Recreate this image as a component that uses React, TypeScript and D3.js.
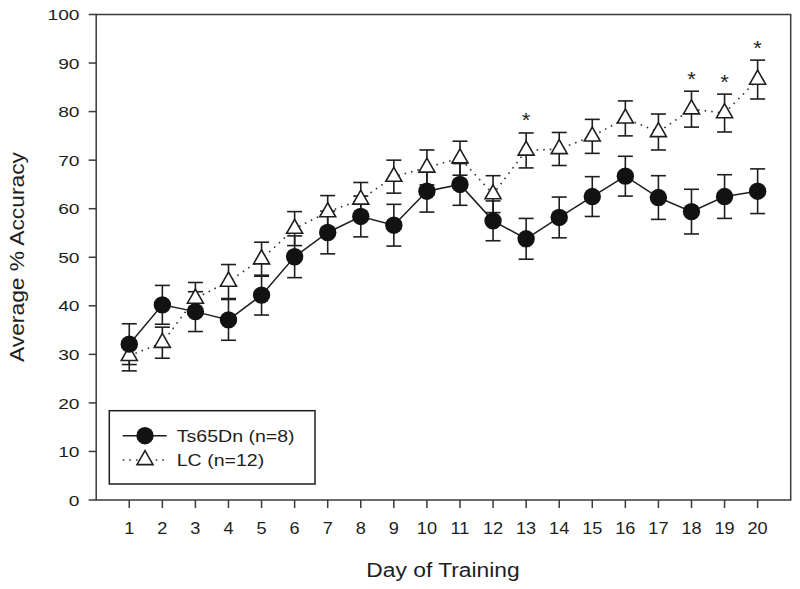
import React from "react";
import * as d3 from "d3";

const days = [1, 2, 3, 4, 5, 6, 7, 8, 9, 10, 11, 12, 13, 14, 15, 16, 17, 18, 19, 20];
const tsMean = [32.1, 40.2, 38.8, 37.1, 42.2, 50.1, 55.1, 58.4, 56.6, 63.6, 65.0, 57.5, 53.8, 58.2, 62.5, 66.7, 62.3, 59.4, 62.5, 63.6];
const tsErr = [4.2, 4.0, 4.1, 4.2, 4.1, 4.3, 4.4, 4.2, 4.3, 4.3, 4.3, 4.1, 4.2, 4.2, 4.1, 4.1, 4.5, 4.6, 4.5, 4.6];
const lcMean = [29.7, 32.4, 41.5, 45.0, 49.6, 55.9, 59.3, 61.9, 66.6, 68.5, 70.4, 63.0, 72.0, 72.3, 74.9, 78.6, 75.8, 80.5, 79.7, 86.6];
const lcErr = [3.1, 3.2, 3.3, 3.5, 3.5, 3.5, 3.4, 3.5, 3.4, 3.6, 3.5, 3.8, 3.6, 3.4, 3.5, 3.6, 3.7, 3.7, 3.9, 4.0];
const sigDays = [13, 18, 19, 20];
const yTicks = [0, 10, 20, 30, 40, 50, 60, 70, 80, 90, 100];
const seriesNames = ["Ts65Dn (n=8)", "LC (n=12)"];
const xTitle = "Day of Training";
const yTitle = "Average % Accuracy";

const FONT = "'Liberation Sans', Arial, Helvetica, sans-serif";
const INK = "#1e1e1e";

function T({ x, y, size, anchor = "start", rot = false, sx = 1.2, children }: any) {
  return (
    <text
      transform={`translate(${x},${y})${rot ? " rotate(-90)" : ""} scale(${sx},1)`}
      fontFamily={FONT}
      fontSize={size}
      textAnchor={anchor}
      fill={INK}
    >
      {children}
    </text>
  );
}

const TRI_W = 16;
const TRI_H = 14;
function triPath(cx: number, cy: number) {
  const top = cy - (2 / 3) * TRI_H;
  const bot = cy + TRI_H / 3;
  return `M${cx},${top}L${cx + TRI_W / 2},${bot}L${cx - TRI_W / 2},${bot}Z`;
}

export default function App() {
  const x = d3.scaleLinear().domain([0, 21]).range([96.2, 790.7]);
  const y = d3.scaleLinear().domain([0, 100]).range([500, 14.5]);
  const R = 8.7;
  const CAP = 7.5;

  const ts = days.map((d, i) => ({ d, m: tsMean[i], e: tsErr[i] }));
  const lc = days.map((d, i) => ({ d, m: lcMean[i], e: lcErr[i] }));
  const line = d3
    .line<{ d: number; m: number }>()
    .x((p) => x(p.d))
    .y((p) => y(p.m));

  const errBar = (p: { d: number; m: number; e: number }, key: string) => {
    const cx = x(p.d);
    const t = y(p.m + p.e);
    const b = y(p.m - p.e);
    return (
      <g key={key} stroke={INK} strokeWidth={1.6} fill="none">
        <line x1={cx} x2={cx} y1={t} y2={b} />
        <line x1={cx - CAP} x2={cx + CAP} y1={t} y2={t} />
        <line x1={cx - CAP} x2={cx + CAP} y1={b} y2={b} />
      </g>
    );
  };

  const x0 = x(0);
  const x1 = x(21);
  const yb = y(0);
  const yt = y(100);

  return (
    <svg
      width={800}
      height={589}
      style={{ position: "absolute", left: 0, top: 0, background: "#fff" }}
    >
      <rect x={0} y={0} width={800} height={589} fill="#fff" />
      {/* frame */}
      <rect x={x0} y={yt} width={x1 - x0} height={yb - yt} fill="none" stroke="#3a3a3a" strokeWidth={1.5} />
      {/* y ticks */}
      {yTicks.map((v) => (
        <g key={"yt" + v}>
          <line x1={x0 - 7.5} x2={x0} y1={y(v)} y2={y(v)} stroke="#3a3a3a" strokeWidth={1.5} />
          <T x={79.5} y={y(v) + 5.6} size={15.5} sx={1.24} anchor="end">
            {v}
          </T>
        </g>
      ))}
      {/* x ticks */}
      {days.map((d) => (
        <g key={"xt" + d}>
          <line x1={x(d)} x2={x(d)} y1={yb} y2={yb + 8} stroke="#3a3a3a" strokeWidth={1.5} />
          <T x={x(d)} y={534} size={15.8} sx={1.15} anchor="middle">
            {d}
          </T>
        </g>
      ))}
      <T x={443} y={577} size={19.5} sx={1.17} anchor="middle">
        {xTitle}
      </T>
      <T x={24} y={257} size={19.5} sx={1.17} anchor="middle" rot>
        {yTitle}
      </T>

      {/* error bars */}
      {ts.map((p, i) => errBar(p, "te" + i))}
      {lc.map((p, i) => errBar(p, "le" + i))}

      {/* lines */}
      <path d={line(lc) || ""} fill="none" stroke="#333" strokeWidth={1.6} strokeDasharray="1.6 5" />
      <path d={line(ts) || ""} fill="none" stroke={INK} strokeWidth={1.5} />

      {/* markers */}
      {lc.map((p, i) => (
        <path key={"lm" + i} d={triPath(x(p.d), y(p.m))} fill="#fff" stroke={INK} strokeWidth={1.6} />
      ))}
      {ts.map((p, i) => (
        <circle key={"tm" + i} cx={x(p.d)} cy={y(p.m)} r={R} fill="#121212" />
      ))}

      {/* significance */}
      {sigDays.map((d) => {
        const i = days.indexOf(d);
        return (
          <T key={"s" + d} x={x(d)} y={y(lcMean[i] + lcErr[i]) - 5.5} size={20} sx={1.1} anchor="middle">
            *
          </T>
        );
      })}

      {/* legend */}
      <rect x={109.3} y={410.7} width={205.7} height={73.3} fill="#fff" stroke={INK} strokeWidth={1.5} />
      <line x1={122.7} x2={166.7} y1={435.7} y2={435.7} stroke={INK} strokeWidth={1.5} />
      <circle cx={145} cy={435.7} r={R} fill="#121212" />
      <T x={176.7} y={441.7} size={16.3}>
        {seriesNames[0]}
      </T>
      <line x1={122.7} x2={166.7} y1={460} y2={460} stroke="#333" strokeWidth={1.6} strokeDasharray="1.6 5" />
      <path d={triPath(145, 460)} fill="#fff" stroke={INK} strokeWidth={1.6} />
      <T x={176.7} y={466} size={16.3}>
        {seriesNames[1]}
      </T>
    </svg>
  );
}
